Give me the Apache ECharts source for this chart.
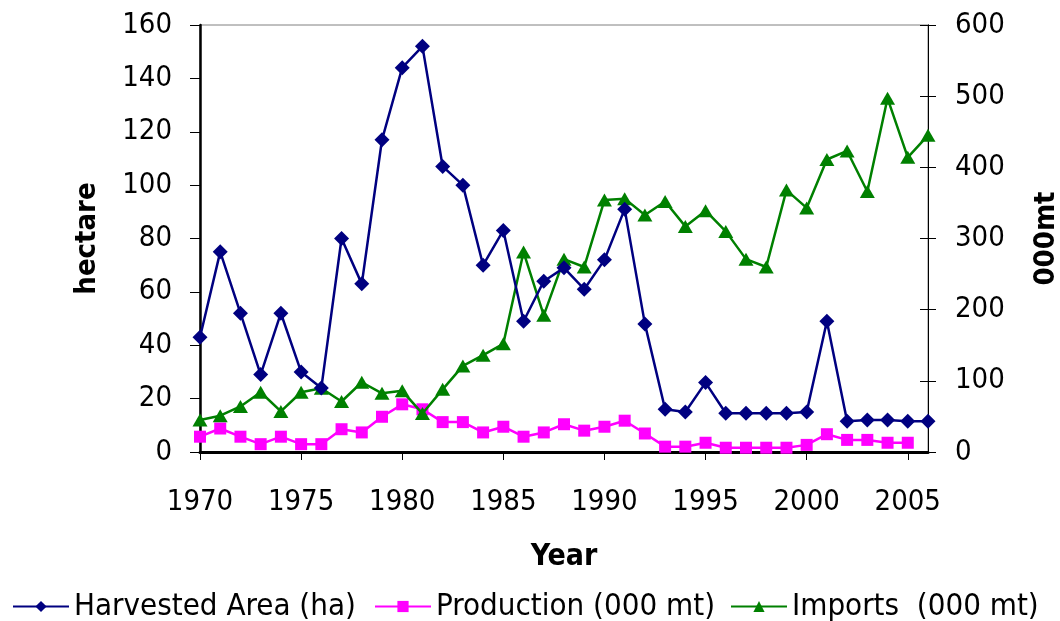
<!DOCTYPE html>
<html>
<head>
<meta charset="utf-8">
<script src="https://cdn.jsdelivr.net/npm/echarts@6/dist/echarts.min.js"></script>
<style>
html,body{margin:0;padding:0;background:#fff;}
#chart{width:1060px;height:621px;}
</style>
</head>
<body>
<div id="chart"></div>
<script>
const years = [1970,1971,1972,1973,1974,1975,1976,1977,1978,1979,1980,1981,1982,1983,1984,1985,1986,1987,1988,1989,1990,1991,1992,1993,1994,1995,1996,1997,1998,1999,2000,2001,2002,2003,2004,2005,2006];
const harvestedArea = [43,75,52,29,52,30,24,80,63,117,144,152,107,100,70,83,49,64,69,61,72,91,48,16,15,26,14.5,14.5,14.5,14.5,15,49,11.5,12,12,11.5,11.5];
const production = [21.5,33,21.5,11,21.5,11,11,32,27.5,49.5,67,60,42,42,27.5,35.5,21.5,27.5,39,30,35.5,44,26,7.5,7.5,13,6,6,6,6,10,25,17,17,13,13,null];
const imports = [45,51,64,84,57,84,89.5,71,98,82.5,86,54,88,121,136,152,281,192,271,260,354,356,333,352,317,339,310,271,260,368,343,411,423,366,497,414,445];
const seriesNames = ['Harvested Area (ha)','Production (000 mt)','Imports  (000 mt)'];
const leftTicks = {min:0,max:160,interval:20};
const rightTicks = {min:0,max:600,interval:100};
const xTicks = {min:1970,max:2006,interval:5};

const FONT = "'DejaVu Sans Condensed','DejaVu Sans',sans-serif";
const pairs = arr => years.map((y,i) => [y, arr[i]]);

const chart = echarts.init(document.getElementById('chart'), null, {renderer:'canvas'});
const legendBase = {
  orient:'horizontal', top:591, itemWidth:56, itemHeight:14, itemGap:0,
  textStyle:{fontFamily:FONT, fontSize:31, color:'#000'}, padding:0
};
chart.setOption({
  animation:false,
  backgroundColor:'#fff',
  grid:{left:200, right:132, top:25, bottom:169, containLabel:false, outerBoundsMode:'none',
        show:true, borderColor:'#808080', borderWidth:1, backgroundColor:'transparent'},
  legend:[
    Object.assign({}, legendBase, {left:12, data:[seriesNames[0]]}),
    Object.assign({}, legendBase, {left:374, data:[seriesNames[1]]}),
    Object.assign({}, legendBase, {left:730, data:[seriesNames[2]]})
  ],
  xAxis:{
    type:'value', min:xTicks.min, max:xTicks.max, interval:xTicks.interval,
    name:'Year', nameLocation:'middle', nameGap:90,
    nameTextStyle:{fontFamily:FONT, fontSize:30, fontWeight:'bold', color:'#000'},
    axisLine:{show:true, lineStyle:{color:'#000', width:3}},
    axisTick:{show:true, length:8, lineStyle:{color:'#000', width:1}},
    axisLabel:{show:true, margin:36, showMaxLabel:false, fontFamily:FONT, fontSize:29, color:'#000', formatter:v=>String(v)},
    splitLine:{show:false}
  },
  yAxis:[
    {
      type:'value', position:'left', min:leftTicks.min, max:leftTicks.max, interval:leftTicks.interval,
      name:'hectare', nameLocation:'middle', nameGap:98,
      nameTextStyle:{fontFamily:FONT, fontSize:29, fontWeight:'bold', color:'#000'},
      axisLine:{show:true, lineStyle:{color:'#000', width:2.5}},
      axisTick:{show:true, length:10, lineStyle:{color:'#000', width:1}},
      axisLabel:{margin:28, fontFamily:FONT, fontSize:29, color:'#000'},
      splitLine:{show:false}
    },
    {
      type:'value', position:'right', min:rightTicks.min, max:rightTicks.max, interval:rightTicks.interval,
      name:'000mt', nameLocation:'middle', nameGap:104,
      nameTextStyle:{fontFamily:FONT, fontSize:29, fontWeight:'bold', color:'#000'},
      axisLine:{show:true, lineStyle:{color:'#000', width:1}},
      axisTick:{show:true, length:8, lineStyle:{color:'#000', width:1}},
      axisLabel:{margin:27, fontFamily:FONT, fontSize:29, color:'#000'},
      splitLine:{show:false}
    },
    {
      type:'value', position:'right', min:rightTicks.min, max:rightTicks.max, interval:rightTicks.interval,
      axisLine:{show:true, lineStyle:{color:'#000', width:1}},
      axisTick:{show:true, inside:true, length:8, lineStyle:{color:'#000', width:1}},
      axisLabel:{show:false},
      splitLine:{show:false}
    }
  ],
  series:[
    {
      name:seriesNames[1], type:'line', yAxisIndex:1, data:pairs(production), z:2,
      symbol:'rect', symbolSize:12, showAllSymbol:true,
      lineStyle:{color:'#FF00FF', width:2.5}, itemStyle:{color:'#FF00FF'}
    },
    {
      name:seriesNames[2], type:'line', yAxisIndex:1, data:pairs(imports), z:3,
      symbol:'triangle', symbolSize:[15,13], showAllSymbol:true,
      lineStyle:{color:'#008000', width:2.5}, itemStyle:{color:'#008000'}
    },
    {
      name:seriesNames[0], type:'line', yAxisIndex:0, data:pairs(harvestedArea), z:4,
      symbol:'diamond', symbolSize:[15,15], showAllSymbol:true,
      lineStyle:{color:'#000080', width:2.5}, itemStyle:{color:'#000080'}
    }
  ]
});
</script>
</body>
</html>
